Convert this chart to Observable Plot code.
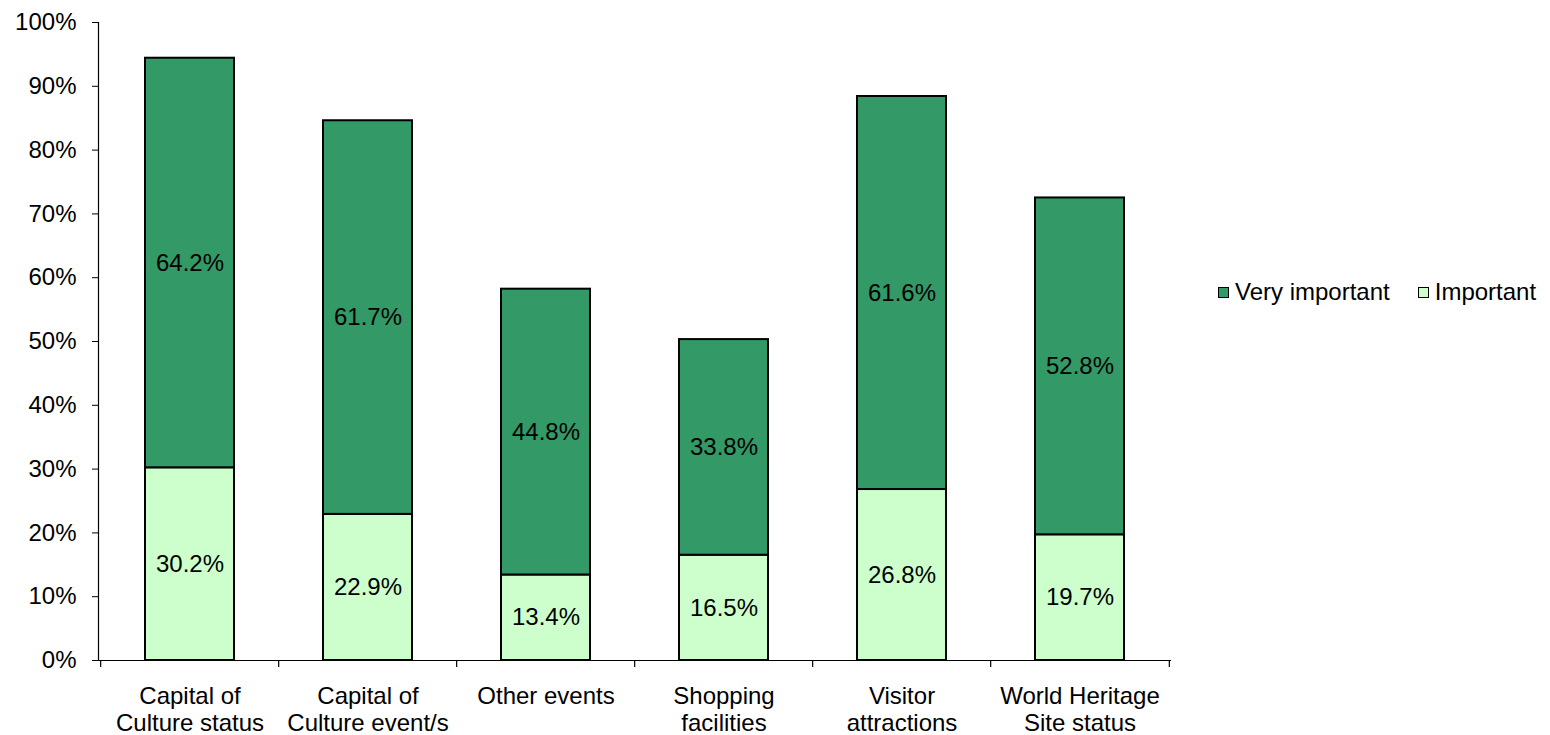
<!DOCTYPE html>
<html>
<head>
<meta charset="utf-8">
<script src="https://cdn.jsdelivr.net/npm/d3@7"></script>
<script src="https://cdn.jsdelivr.net/npm/@observablehq/plot@0.6"></script>
<style>
  body { margin: 0; background: #fff; font-family: "Liberation Sans", Arial, sans-serif; }
  #wrap { position: relative; width: 1550px; height: 735px; }
  #legend { position: absolute; left: 1218px; top: 278px; font-size: 24px; color: #000; display: flex; align-items: center; white-space: nowrap; }
  .sw { display: inline-block; width: 9px; height: 9px; border: 1.5px solid #000; margin-right: 6px; }
  .item { display: flex; align-items: center; margin-right: 28px; }
</style>
</head>
<body>
<div id="wrap"><div id="chart"></div><div id="legend"></div></div>
<script>
const categories = ["Capital of\nCulture status", "Capital of\nCulture event/s", "Other events", "Shopping\nfacilities", "Visitor\nattractions", "World Heritage\nSite status"];
const important = [30.2, 22.9, 13.4, 16.5, 26.8, 19.7];
const veryImportant = [64.2, 61.7, 44.8, 33.8, 61.6, 52.8];
const seriesNames = ["Important", "Very important"];
const seriesColors = ["#CCFFCC", "#339966"];
const yTicks = [0, 0.1, 0.2, 0.3, 0.4, 0.5, 0.6, 0.7, 0.8, 0.9, 1.0];

const data = [];
categories.forEach((c, i) => data.push({cat: c, series: "Important", value: important[i] / 100}));
categories.forEach((c, i) => data.push({cat: c, series: "Very important", value: veryImportant[i] / 100}));

const W = 1550, H = 735, ML = 98, MR = 380, MT = 22, MB = 75;
const step = (W - ML - MR) / categories.length;

const chart = Plot.plot({
  width: W, height: H,
  marginLeft: ML, marginRight: MR, marginTop: MT, marginBottom: MB,
  style: {fontFamily: "Liberation Sans, Arial, sans-serif", fontSize: "24px", color: "#000", background: "#fff"},
  x: {domain: categories, paddingInner: 0.5, paddingOuter: 0.25, label: null},
  y: {domain: [0, 1], label: null},
  color: {domain: seriesNames, range: seriesColors},
  marks: [
    Plot.barY(data, Plot.stackY({x: "cat", y: "value", fill: "series", stroke: "#000", strokeWidth: 2})),
    Plot.text(data, Plot.stackY({x: "cat", y: "value", text: d => (d.value * 100).toFixed(1) + "%", fill: "#000", fontSize: 24})),
    Plot.frame({anchor: "left", stroke: "#000", strokeWidth: 1.2}),
    Plot.frame({anchor: "bottom", stroke: "#000", strokeWidth: 1.2}),
    Plot.ruleX(categories, {x: d => d, y1: 0, y2: -0.011, dx: -step / 2, stroke: "#000", strokeWidth: 1.2}),
    Plot.ruleX([categories[categories.length - 1]], {x: d => d, y1: 0, y2: -0.011, dx: step / 2, stroke: "#000", strokeWidth: 1.2}),
    Plot.axisY({ticks: yTicks, tickFormat: d3.format(".0%"), tickSize: 6, tickPadding: 16, fontSize: 24, label: null}),
    Plot.axisX({tickSize: 0, tickPadding: 24, fontSize: 24, lineHeight: 1.13, label: null})
  ]
});
document.getElementById("chart").appendChild(chart);

const legend = document.getElementById("legend");
["Very important", "Important"].forEach(name => {
  const item = document.createElement("span");
  item.className = "item";
  const sw = document.createElement("span");
  sw.className = "sw";
  sw.style.background = seriesColors[seriesNames.indexOf(name)];
  item.appendChild(sw);
  item.appendChild(document.createTextNode(name));
  legend.appendChild(item);
});
</script>
</body>
</html>
